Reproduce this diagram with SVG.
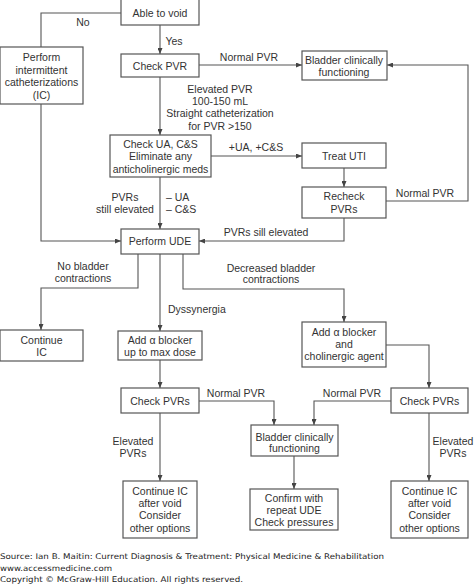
<svg xmlns="http://www.w3.org/2000/svg" width="474" height="585" viewBox="0 0 474 585">
<defs>
<style>
.box{fill:#fff;stroke:#555;stroke-width:1.2}
.t{font-family:"Liberation Sans",Arial,sans-serif;font-size:10.5px;fill:#333;text-anchor:middle}
.c{fill:none;stroke:#555;stroke-width:1.1}
.a{marker-end:url(#ah)}
.src{font-family:"DejaVu Sans",Verdana,sans-serif;font-size:7.8px;fill:#222}
</style>
<marker id="ah" markerWidth="6" markerHeight="5" refX="6" refY="2.5" orient="auto" markerUnits="userSpaceOnUse">
<path d="M0,0 L6,2.5 L0,5 z" fill="#444"/>
</marker>
</defs>
<rect width="474" height="585" fill="#fff"/>
<g id="connectors">
<path class="c" d="M121,13 H41 V47"/>
<path class="c a" d="M41,104 V241 H121"/>
<path class="c a" d="M160,25 V54"/>
<path class="c a" d="M199,65 H302"/>
<path class="c a" d="M160,77 V135"/>
<path class="c a" d="M211,156 H302"/>
<path class="c a" d="M344,168 V187"/>
<path class="c a" d="M386,201 H468 V65 H387"/>
<path class="c a" d="M344,218 V241 H199"/>
<path class="c a" d="M160,177 V229"/>
<path class="c a" d="M138,254 V288 H41 V330"/>
<path class="c a" d="M160,254 V331"/>
<path class="c a" d="M183,254 V289 H344 V322"/>
<path class="c a" d="M160,360 V388"/>
<path class="c a" d="M386,345 H429 V388"/>
<path class="c a" d="M199,401 H274 V425"/>
<path class="c a" d="M391,401 H314 V425"/>
<path class="c a" d="M294,456 V489"/>
<path class="c a" d="M160,413 V481"/>
<path class="c a" d="M429,413 V481"/>
<g class="t">
<text x="83" y="26">No</text>
<text x="174" y="45">Yes</text>
<text x="249" y="61">Normal PVR</text>
<text x="220" y="93">Elevated PVR</text>
<text x="220" y="105">100-150 mL</text>
<text x="220" y="117">Straight catheterization</text>
<text x="220" y="130">for PVR &gt;150</text>
<text x="256" y="151">+UA, +C&amp;S</text>
<text x="425" y="197">Normal PVR</text>
<text x="125" y="201">PVRs</text>
<text x="125" y="213">still elevated</text>
<text x="166" y="201" text-anchor="start">– UA</text>
<text x="166" y="213" text-anchor="start">– C&amp;S</text>
<text x="266" y="236">PVRs sill elevated</text>
<text x="83" y="270">No bladder</text>
<text x="83" y="282">contractions</text>
<text x="271" y="272">Decreased bladder</text>
<text x="271" y="283">contractions</text>
<text x="168" y="313" text-anchor="start">Dyssynergia</text>
<text x="236" y="397">Normal PVR</text>
<text x="352" y="397">Normal PVR</text>
<text x="133" y="445">Elevated</text>
<text x="133" y="457">PVRs</text>
<text x="453" y="445">Elevated</text>
<text x="453" y="457">PVRs</text>
</g>
</g>
<g id="able"><rect class="box" x="121" y="-1" width="78" height="26"/><text class="t" x="160" y="17">Able to void</text></g>
<g id="ic"><rect class="box" x="0" y="47" width="83" height="57"/><text class="t" x="41.5" y="61">Perform</text><text class="t" x="41.5" y="74">intermittent</text><text class="t" x="41.5" y="86">catheterizations</text><text class="t" x="41.5" y="99">(IC)</text></g>
<g id="checkpvr"><rect class="box" x="121" y="54" width="78" height="23"/><text class="t" x="160" y="70">Check PVR</text></g>
<g id="bladder1"><rect class="box" x="302" y="51" width="85" height="29"/><text class="t" x="344" y="64">Bladder clinically</text><text class="t" x="344" y="76">functioning</text></g>
<g id="checkua"><rect class="box" x="110" y="135" width="101" height="42"/><text class="t" x="160.5" y="148">Check UA, C&amp;S</text><text class="t" x="160.5" y="160">Eliminate any</text><text class="t" x="160.5" y="173">anticholinergic meds</text></g>
<g id="treatuti"><rect class="box" x="302" y="143" width="84" height="25"/><text class="t" x="344" y="160">Treat UTI</text></g>
<g id="recheck"><rect class="box" x="302" y="187" width="84" height="31"/><text class="t" x="344" y="200">Recheck</text><text class="t" x="344" y="213">PVRs</text></g>
<g id="ude"><rect class="box" x="121" y="229" width="78" height="25"/><text class="t" x="160" y="245">Perform UDE</text></g>
<g id="continueic"><rect class="box" x="0" y="330" width="83" height="31"/><text class="t" x="41.5" y="344">Continue</text><text class="t" x="41.5" y="356">IC</text></g>
<g id="alpha1"><rect class="box" x="118" y="331" width="84" height="29"/><text class="t" x="160" y="344">Add α blocker</text><text class="t" x="160" y="356">up to max dose</text></g>
<g id="alpha2"><rect class="box" x="302" y="322" width="84" height="45"/><text class="t" x="344" y="336">Add α blocker</text><text class="t" x="344" y="348">and</text><text class="t" x="344" y="360">cholinergic agent</text></g>
<g id="checkpvrs1"><rect class="box" x="121" y="388" width="78" height="25"/><text class="t" x="160" y="405">Check PVRs</text></g>
<g id="checkpvrs2"><rect class="box" x="391" y="388" width="77" height="25"/><text class="t" x="429.5" y="405">Check PVRs</text></g>
<g id="bladder2"><rect class="box" x="251" y="425" width="87" height="31"/><text class="t" x="294.5" y="441">Bladder clinically</text><text class="t" x="294.5" y="452">functioning</text></g>
<g id="confirm"><rect class="box" x="250" y="489" width="88" height="41"/><text class="t" x="294" y="502">Confirm with</text><text class="t" x="294" y="514">repeat UDE</text><text class="t" x="294" y="526">Check pressures</text></g>
<g id="continue1"><rect class="box" x="123" y="481" width="74" height="57"/><text class="t" x="160" y="495">Continue IC</text><text class="t" x="160" y="507">after void</text><text class="t" x="160" y="519">Consider</text><text class="t" x="160" y="532">other options</text></g>
<g id="continue2"><rect class="box" x="391" y="481" width="77" height="57"/><text class="t" x="429.5" y="495">Continue IC</text><text class="t" x="429.5" y="507">after void</text><text class="t" x="429.5" y="519">Consider</text><text class="t" x="429.5" y="532">other options</text></g>
<g id="source">
<text class="src" x="0" y="559" textLength="384" lengthAdjust="spacingAndGlyphs">Source: Ian B. Maitin: Current Diagnosis &amp; Treatment: Physical Medicine &amp; Rehabilitation</text>
<text class="src" x="0" y="570.5" textLength="112" lengthAdjust="spacingAndGlyphs">www.accessmedicine.com</text>
<text class="src" x="0" y="582" textLength="243" lengthAdjust="spacingAndGlyphs">Copyright © McGraw-Hill Education. All rights reserved.</text>
</g>
</svg>
